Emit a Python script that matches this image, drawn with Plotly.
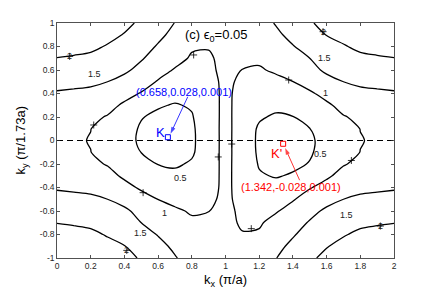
import plotly.graph_objects as go

# ---- data ----
kx = [0.0, 0.1, 0.2, 0.3, 0.4, 0.5, 0.6, 0.7, 0.8, 0.9, 1.0,
      1.1, 1.2, 1.3, 1.4, 1.5, 1.6, 1.7, 1.8, 1.9, 2.0]
ky = [-1.0, -0.9, -0.8, -0.7, -0.6, -0.5, -0.4, -0.3, -0.2, -0.1, 0.0,
      0.1, 0.2, 0.3, 0.4, 0.5, 0.6, 0.7, 0.8, 0.9, 1.0]
# energy E(kx, ky): one row per ky value (bottom to top)
energy = [
    [2.47, 2.43, 2.38, 2.25, 2.12, 1.96, 1.74, 1.53, 1.32, 1.20, 1.16, 1.18, 1.30, 1.49, 1.73, 1.93, 2.10, 2.25, 2.38, 2.43, 2.47],
    [2.32, 2.28, 2.23, 2.11, 2.01, 1.82, 1.62, 1.42, 1.22, 1.15, 1.14, 1.10, 1.17, 1.38, 1.60, 1.81, 1.98, 2.11, 2.23, 2.28, 2.32],
    [2.16, 2.12, 2.08, 1.97, 1.88, 1.66, 1.48, 1.31, 1.13, 1.10, 1.12, 1.02, 1.04, 1.26, 1.46, 1.68, 1.87, 1.97, 2.08, 2.12, 2.16],
    [1.99, 1.96, 1.92, 1.83, 1.74, 1.50, 1.33, 1.19, 1.05, 1.06, 1.10, 0.955, 0.96, 1.12, 1.31, 1.54, 1.73, 1.83, 1.92, 1.96, 1.99],
    [1.81, 1.79, 1.74, 1.67, 1.58, 1.36, 1.16, 1.045, 0.97, 0.995, 1.09, 0.93, 0.87, 0.97, 1.14, 1.37, 1.58, 1.67, 1.74, 1.79, 1.81],
    [1.63, 1.61, 1.57, 1.50, 1.35, 1.15, 0.995, 0.92, 0.84, 0.92, 1.09, 0.87, 0.76, 0.79, 0.97, 1.17, 1.35, 1.50, 1.57, 1.61, 1.63],
    [1.46, 1.43, 1.41, 1.31, 1.12, 0.945, 0.83, 0.77, 0.72, 0.85, 1.10, 0.83, 0.64, 0.63, 0.75, 0.975, 1.13, 1.31, 1.41, 1.43, 1.46],
    [1.28, 1.26, 1.21, 1.12, 0.935, 0.78, 0.65, 0.61, 0.63, 0.82, 1.11, 0.81, 0.54, 0.47, 0.54, 0.74, 0.94, 1.12, 1.21, 1.26, 1.28],
    [1.17, 1.14, 1.08, 0.975, 0.78, 0.63, 0.49, 0.44, 0.55, 0.80, 1.12, 0.795, 0.47, 0.33, 0.42, 0.52, 0.78, 0.975, 1.08, 1.14, 1.17],
    [1.10, 1.07, 1.005, 0.85, 0.66, 0.495, 0.33, 0.26, 0.44, 0.785, 1.13, 0.785, 0.43, 0.21, 0.27, 0.455, 0.66, 0.85, 1.005, 1.07, 1.10],
    [1.08, 1.045, 0.985, 0.80, 0.62, 0.445, 0.17, 0.14, 0.42, 0.78, 1.13, 0.78, 0.42, 0.14, 0.17, 0.445, 0.62, 0.80, 0.985, 1.045, 1.08],
    [1.10, 1.07, 1.005, 0.85, 0.66, 0.455, 0.27, 0.21, 0.43, 0.785, 1.13, 0.785, 0.44, 0.26, 0.33, 0.495, 0.66, 0.85, 1.005, 1.07, 1.10],
    [1.17, 1.14, 1.08, 0.975, 0.78, 0.52, 0.42, 0.33, 0.47, 0.795, 1.12, 0.80, 0.55, 0.44, 0.49, 0.63, 0.78, 0.975, 1.08, 1.14, 1.17],
    [1.28, 1.26, 1.21, 1.12, 0.94, 0.74, 0.54, 0.47, 0.54, 0.81, 1.11, 0.82, 0.63, 0.61, 0.65, 0.78, 0.935, 1.12, 1.21, 1.26, 1.28],
    [1.46, 1.43, 1.41, 1.31, 1.13, 0.975, 0.75, 0.63, 0.64, 0.83, 1.10, 0.85, 0.72, 0.77, 0.83, 0.945, 1.12, 1.31, 1.41, 1.43, 1.46],
    [1.63, 1.61, 1.57, 1.50, 1.35, 1.17, 0.97, 0.79, 0.76, 0.87, 1.09, 0.92, 0.84, 0.92, 0.995, 1.15, 1.35, 1.50, 1.57, 1.61, 1.63],
    [1.81, 1.79, 1.74, 1.67, 1.58, 1.37, 1.14, 0.97, 0.87, 0.93, 1.09, 0.995, 0.97, 1.045, 1.16, 1.36, 1.58, 1.67, 1.74, 1.79, 1.81],
    [1.99, 1.96, 1.92, 1.83, 1.73, 1.54, 1.31, 1.12, 0.96, 0.955, 1.10, 1.06, 1.05, 1.19, 1.33, 1.50, 1.74, 1.83, 1.92, 1.96, 1.99],
    [2.16, 2.12, 2.08, 1.97, 1.87, 1.68, 1.46, 1.26, 1.04, 1.02, 1.12, 1.10, 1.13, 1.31, 1.48, 1.66, 1.88, 1.97, 2.08, 2.12, 2.16],
    [2.32, 2.28, 2.23, 2.11, 1.98, 1.81, 1.60, 1.38, 1.17, 1.10, 1.14, 1.15, 1.22, 1.42, 1.62, 1.82, 2.01, 2.11, 2.23, 2.28, 2.32],
    [2.47, 2.43, 2.38, 2.25, 2.10, 1.93, 1.73, 1.49, 1.30, 1.18, 1.16, 1.20, 1.32, 1.53, 1.74, 1.96, 2.12, 2.25, 2.38, 2.43, 2.47],
]
contour_start, contour_end, contour_step = 0.5, 2.0, 0.5

# contour label texts and the '+' marks of the labelled points
label_text = ["2", "1.5", "2", "1.5", "1", "0.5", "0.5", "1.5", "2", "1", "1.5", "2"]
label_x = [0.075, 0.224, 0.414, 0.493, 0.637, 0.732, 1.565, 1.717, 1.919, 1.592, 1.585, 1.579]
label_y = [0.716, 0.569, -0.935, -0.79, -0.62, -0.322, -0.117, -0.634, -0.728, 0.407, 0.70, 0.926]
plus_x = [0.075, 0.414, 1.919, 1.579, 0.218, 0.811, 0.511, 0.957, 1.037, 1.153, 1.375, 1.747]
plus_y = [0.716, -0.935, -0.728, 0.926, 0.132, 0.728, -0.444, -0.14, -0.03, -0.75, 0.515, -0.17]

# Dirac points (kx, ky, E)
dirac_names = ["K", "K'"]
dirac_kx = [0.658, 1.342]
dirac_ky = [0.028, -0.028]
dirac_e = [0.001, 0.001]

xtick_vals = [0, 0.2, 0.4, 0.6, 0.8, 1, 1.2, 1.4, 1.6, 1.8, 2]
xtick_text = ["0", "0.2", "0.4", "0.6", "0.8", "1", "1.2", "1.4", "1.6", "1.8", "2"]
ytick_vals = [-1, -0.8, -0.6, -0.4, -0.2, 0, 0.2, 0.4, 0.6, 0.8, 1]
ytick_text = ["-1", "-0.8", "-0.6", "-0.4", "-0.2", "0", "0.2", "0.4", "0.6", "0.8", "1"]

# ---- figure ----
FONT = "Liberation Sans, Arial, Helvetica, sans-serif"
AX = "#262626"
colors = ["#0000ff", "#ff0000"]

fig = go.Figure()
fig.add_trace(go.Contour(
    x=kx, y=ky, z=energy,
    contours=dict(coloring="lines", start=contour_start, end=contour_end,
                  size=contour_step, showlabels=False),
    colorscale=[[0, "black"], [1, "black"]],
    line=dict(width=1.3, smoothing=0.9),
    showscale=False, hoverinfo="skip",
))
# dashed ky = 0 line
fig.add_trace(go.Scatter(
    x=[kx[0], kx[-1]], y=[0, 0], mode="lines",
    line=dict(color="black", width=1.2, dash="6px,4px"),
    hoverinfo="skip", showlegend=False,
))
# '+' marks of contour labels
fig.add_trace(go.Scatter(
    x=plus_x, y=plus_y, mode="markers",
    marker=dict(symbol="cross-thin", size=5, line=dict(width=0.8, color="black")),
    hoverinfo="skip", showlegend=False,
))

# K labels, coordinate texts and arrows (drawn as line + arrow-head marker)
name_pos = [(0.613, 0.072), (1.30, -0.113)]
text_pos = [(0.755, 0.415), (1.386, -0.393)]
arrow_tail = [(0.776, 0.372), (1.44, -0.338)]
arrow_head = [(0.674, 0.058), (1.354, -0.064)]
for i in range(2):
    fig.add_trace(go.Scatter(
        x=[arrow_tail[i][0], arrow_head[i][0]], y=[arrow_tail[i][1], arrow_head[i][1]],
        mode="lines+markers",
        line=dict(color=colors[i], width=0.8),
        marker=dict(symbol=["circle", "arrow"], size=[0, 7], angleref="previous",
                    color=colors[i], line=dict(width=0)),
        hoverinfo="skip", showlegend=False,
    ))
    fig.add_trace(go.Scatter(
        x=[dirac_kx[i]], y=[dirac_ky[i]], mode="markers",
        marker=dict(symbol="square-open", size=5, color=colors[i],
                    line=dict(width=1, color=colors[i])),
        hoverinfo="skip", showlegend=False,
    ))

ann = []
for t, x, y in zip(label_text, label_x, label_y):
    ann.append(dict(x=x, y=y, xref="x", yref="y", text=t, showarrow=False,
                    font=dict(family=FONT, size=9, color="#222222")))
for i in range(2):
    ann.append(dict(x=name_pos[i][0], y=name_pos[i][1], xref="x", yref="y",
                    text=dirac_names[i], showarrow=False,
                    font=dict(family=FONT, size=13, color=colors[i])))
    ann.append(dict(x=text_pos[i][0], y=text_pos[i][1], xref="x", yref="y",
                    text="(%.3f,%.3f,%.3f)" % (dirac_kx[i], dirac_ky[i], dirac_e[i]),
                    showarrow=False,
                    font=dict(family=FONT, size=11, color=colors[i])))

# panel title
ann.append(dict(x=0.942, y=0.895, xref="x", yref="y",
                text="(c) ϵ<sub>0</sub>=0.05", showarrow=False,
                font=dict(family=FONT, size=13, color="black")))
# axis titles
ann.append(dict(x=0.5, y=-0.094, xref="paper", yref="paper",
                text="k<sub>x</sub> (π/a)", showarrow=False,
                xanchor="center", yanchor="middle",
                font=dict(family=FONT, size=13, color="black")))
ann.append(dict(x=-0.104, y=0.5, xref="paper", yref="paper",
                text="k<sub>y</sub> (π/1.73a)", showarrow=False, textangle=-90,
                xanchor="center", yanchor="middle",
                font=dict(family=FONT, size=13, color="black")))

axis_common = dict(showline=True, linecolor=AX, linewidth=0.8, mirror="ticks",
                   ticks="inside", ticklen=3, tickwidth=0.8, tickcolor=AX,
                   showgrid=False, zeroline=False,
                   tickfont=dict(family=FONT, size=8.5, color=AX))
fig.update_layout(
    width=436, height=291,
    margin=dict(l=57, r=42, t=23, b=33),
    paper_bgcolor="white", plot_bgcolor="white",
    showlegend=False,
    xaxis=dict(range=[0, 2], tickvals=xtick_vals, ticktext=xtick_text, **axis_common),
    yaxis=dict(range=[-1, 1], tickvals=ytick_vals, ticktext=ytick_text, **axis_common),
    annotations=ann,
)
fig.write_html("out.html",
               config={"displayModeBar": False, "staticPlot": True},
               post_script="document.body.style.margin='0px';"
                           "document.body.style.overflow='hidden';")
